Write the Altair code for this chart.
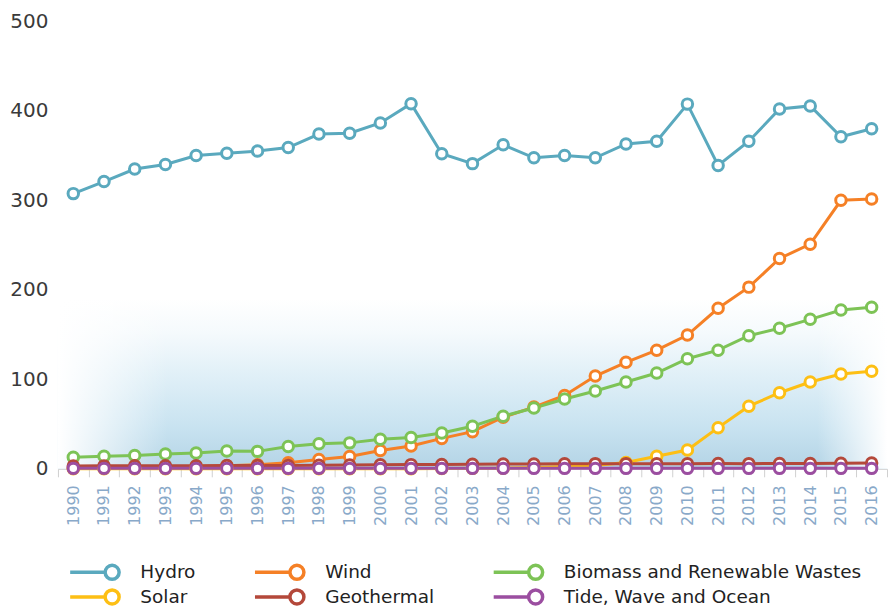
import altair as alt
import pandas as pd

years = [str(y) for y in range(1990, 2017)]

hydro = [307.5, 321, 335, 340, 350, 352.5, 355, 359, 374, 375, 386.5, 408, 352, 341,
         362, 347.5, 350, 347.5, 363, 366, 407.5, 339, 366, 402, 405.5, 371, 380]
wind = [0.8, 1.2, 1.5, 2, 2.5, 3.5, 4.5, 6.7, 10.4, 13.8, 20.5, 25.5, 34, 41.5,
        57.7, 69, 82, 103.7, 119, 132.6, 149.4, 179.4, 203, 235, 251, 300, 301.5]
biomass = [13, 14, 15, 16.5, 17.7, 20, 19.5, 25, 28, 29, 33, 35, 40, 47.6,
           58.8, 68, 78, 87, 97, 107, 123, 132.6, 148.7, 157, 167, 177.5, 180.5]
solar = [0, 0, 0, 0, 0, 0, 0, 0, 0, 0, 0.1, 0.2, 0.3, 0.5,
         0.7, 1.5, 2.5, 3.8, 7, 14, 21, 46, 70, 85, 97, 106, 109]
geothermal = [3.2, 3.3, 3.4, 3.5, 3.5, 3.6, 3.7, 3.8, 4.0, 4.2, 4.6, 4.7, 4.8, 5.0,
              5.4, 5.4, 5.6, 5.8, 5.8, 5.6, 5.6, 5.9, 5.8, 5.9, 6.0, 6.2, 6.4]
tide = [0.5] * 27

series_names = ["Hydro", "Wind", "Biomass and Renewable Wastes", "Solar",
                "Geothermal", "Tide, Wave and Ocean"]
series_colors = ["#5aa9be", "#f58026", "#7dc356", "#fdbf14", "#b4483a", "#9b4ea0"]
series_values = [hydro, wind, biomass, solar, geothermal, tide]

rows = []
for idx, (name, vals) in enumerate(zip(series_names, series_values)):
    for yr, v in zip(years, vals):
        rows.append({"year": yr, "series": name, "value": v, "order": idx})
df = pd.DataFrame(rows)

W, H = 830, 448

color_scale = alt.Scale(domain=series_names, range=series_colors)
x_enc = alt.X("year:O", scale=alt.Scale(paddingInner=0, paddingOuter=0),
              axis=alt.Axis(title=None, labelAngle=270, labelFont="DejaVu Sans",
                            labelFontSize=16, labelColor="#89a9c9", labelPadding=8,
                            tickBand="extent", tickSize=8, tickColor="#d0d0d0",
                            domainColor="#d0d0d0", grid=False))
y_scale = alt.Scale(domain=[0, 500], nice=False)
y_enc = alt.Y("value:Q", scale=y_scale,
              axis=alt.Axis(title=None, values=[0, 100, 200, 300, 400, 500],
                            labelFont="DejaVu Sans", labelFontSize=20,
                            labelColor="#3a3a3a", labelPadding=10, ticks=False,
                            domain=False, gridColor="#d6d6d6", gridWidth=1.5))

# line + open circle legend glyph (unit = 7px with symbolSize 196); circle from Beziers
k = 0.552
sym_path = (f"M-6,0L-1,0M1,0C1,{k},{k},1,0,1C-{k},1,-1,{k},-1,0"
            f"C-1,-{k},-{k},-1,0,-1C{k},-1,1,-{k},1,0Z")

legend = alt.Legend(orient="none", legendX=45, legendY=542, columns=3,
                    direction="horizontal", title=None,
                    symbolType=sym_path, symbolSize=196, symbolStrokeWidth=3.5,
                    symbolFillColor="white", labelFont="DejaVu Sans", labelFontSize=18.5,
                    labelColor="#222222", labelOffset=19, columnPadding=52,
                    rowPadding=-4, padding=0, labelLimit=400)

one = pd.DataFrame({"a": [0]})

# soft blue glow behind the lower part of the plot
glow = alt.Chart(one).mark_rect(
    fillOpacity=0.85,
    color=alt.Gradient(
        gradient="linear", x1=0, y1=1, x2=0, y2=0,
        stops=[alt.GradientStop(color="#a6cce1", offset=0),
               alt.GradientStop(color="#bfdeee", offset=0.25),
               alt.GradientStop(color="#dbedf6", offset=0.55),
               alt.GradientStop(color="#f3f9fc", offset=0.8),
               alt.GradientStop(color="#ffffff", offset=1)])
).encode(x=alt.value(0), x2=alt.value(W), y=alt.datum(190), y2=alt.datum(0))

fade_left = alt.Chart(one).mark_rect(
    color=alt.Gradient(
        gradient="linear", x1=0, y1=0, x2=1, y2=0,
        stops=[alt.GradientStop(color="rgba(255,255,255,1)", offset=0),
               alt.GradientStop(color="rgba(255,255,255,0.6)", offset=0.4),
               alt.GradientStop(color="rgba(255,255,255,0)", offset=1)])
).encode(x=alt.value(0), x2=alt.value(110), y=alt.datum(190), y2=alt.datum(0))

fade_right = alt.Chart(one).mark_rect(
    color=alt.Gradient(
        gradient="linear", x1=0, y1=0, x2=1, y2=0,
        stops=[alt.GradientStop(color="rgba(255,255,255,0)", offset=0),
               alt.GradientStop(color="rgba(255,255,255,0.6)", offset=0.6),
               alt.GradientStop(color="rgba(255,255,255,1)", offset=1)])
).encode(x=alt.value(W - 70), x2=alt.value(W), y=alt.datum(190), y2=alt.datum(0))

lines = alt.Chart(df).mark_line(strokeWidth=3).encode(
    x=x_enc, y=y_enc,
    color=alt.Color("series:N", scale=color_scale, legend=legend),
    order="order:Q",
)

points = alt.Chart(df).mark_point(filled=False, fill="white", fillOpacity=1, opacity=1,
                                  size=110, strokeWidth=3).encode(
    x=x_enc, y=y_enc,
    color=alt.Color("series:N", scale=color_scale, legend=None),
    order="order:Q",
)

chart = alt.layer(glow, fade_left, fade_right, lines, points).properties(
    width=W, height=H,
    padding={"left": 1, "top": 3, "right": 0, "bottom": 0},
).configure_view(stroke=None)

chart.save("out.html", embed_options={"renderer": "svg", "actions": False})
